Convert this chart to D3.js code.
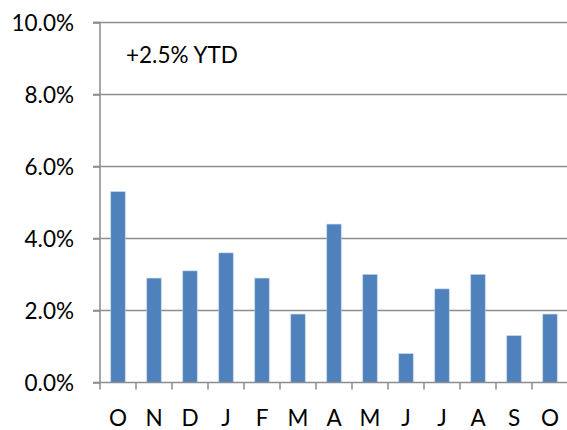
<!DOCTYPE html>
<html><head><meta charset="utf-8">
<script src="https://cdn.jsdelivr.net/npm/d3@7"></script>
<style>body{margin:0;background:#fff;} text{font-family:Lato, "Open Sans", sans-serif;}</style>
</head><body>
<svg id="c" width="567" height="430"></svg>
<script>
const categories = ["O","N","D","J","F","M","A","M","J","J","A","S","O"];
const values = [5.3, 2.9, 3.1, 3.6, 2.9, 1.9, 4.4, 3.0, 0.8, 2.6, 3.0, 1.3, 1.9];
const yTicks = [0, 2, 4, 6, 8, 10];
const annotation = "+2.5% YTD";

(function(){
const svg = d3.select("#c");
const mLeft = 100, mRight = 568, mTop = 22.5, mBottom = 382.5;
const fs = 22.5;
const x = d3.scaleBand().domain(d3.range(categories.length)).range([mLeft, mRight]).paddingInner(0.6).paddingOuter(0.3);
const xb = d3.scaleBand().domain(d3.range(categories.length)).range([mLeft, mRight]);
const y = d3.scaleLinear().domain([0, 10]).range([mBottom, mTop]);

svg.append("g").selectAll("line").data(yTicks.filter(d => d > 0)).join("line")
  .attr("x1", mLeft - 7).attr("x2", mRight).attr("y1", d => y(d)).attr("y2", d => y(d))
  .attr("stroke", "#8c8c8c").attr("stroke-width", 1.5);

svg.append("g").selectAll("rect").data(values).join("rect")
  .attr("x", (d, i) => x(i)).attr("width", x.bandwidth())
  .attr("y", d => y(d)).attr("height", d => y(0) - y(d))
  .attr("fill", "#4f81bd").attr("stroke", "#b9cde5").attr("stroke-width", 0.6);

const yAxis = d3.axisLeft(y).tickValues(yTicks).tickSize(7).tickFormat(d => d.toFixed(1) + "%");
const gy = svg.append("g").attr("transform", `translate(${mLeft},0)`).call(yAxis);
gy.select(".domain").attr("stroke", "#8c8c8c").attr("stroke-width", 1.5).attr("d", `M-7,${mTop}H0V${mBottom}`);
gy.selectAll(".tick line").attr("stroke", "#8c8c8c").attr("stroke-width", 1.5);
gy.selectAll(".tick text").attr("font-size", fs).attr("fill", "#000").attr("x", -26).attr("dy", "0.36em");

const gx = svg.append("g").attr("transform", `translate(0,${mBottom})`);
gx.append("line").attr("x1", mLeft - 7).attr("x2", mRight).attr("y1", 0).attr("y2", 0).attr("stroke", "#8c8c8c").attr("stroke-width", 1.5);
gx.selectAll("line.t").data(d3.range(categories.length + 1)).join("line").attr("class", "t")
  .attr("x1", i => mLeft + i * xb.step()).attr("x2", i => mLeft + i * xb.step())
  .attr("y1", 0).attr("y2", 7).attr("stroke", "#8c8c8c").attr("stroke-width", 1.5);
gx.selectAll("text").data(categories).join("text")
  .attr("x", (d, i) => xb(i) + xb.bandwidth() / 2).attr("y", 43)
  .attr("text-anchor", "middle").attr("font-size", fs).attr("fill", "#000").text(d => d);

svg.append("text").attr("x", 126).attr("y", 63).attr("font-size", fs).attr("fill", "#000").text(annotation);
})();
</script>
</body></html>
